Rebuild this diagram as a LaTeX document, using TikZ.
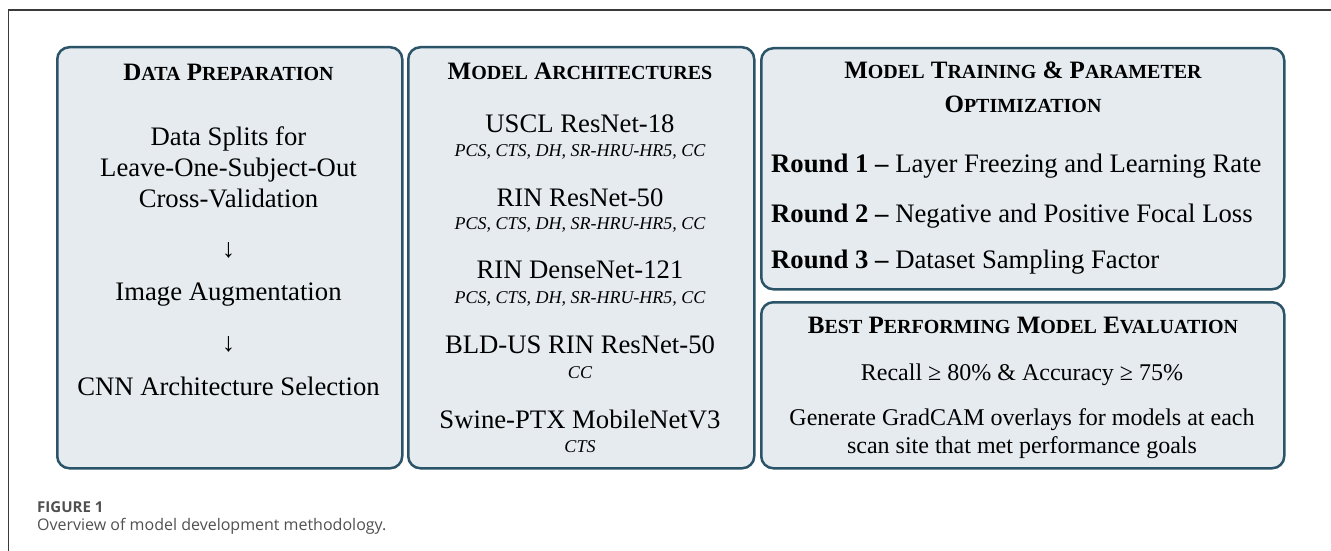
\documentclass[tikz,border=0pt]{standalone}
\usepackage{fontspec}
\setmainfont{Liberation Serif}
\newfontfamily\capfont{Open Sans}
\definecolor{boxfill}{HTML}{E5EBEF}
\definecolor{boxline}{HTML}{2B5468}
\definecolor{framecol}{HTML}{3A3A3A}
\definecolor{capgray}{HTML}{505050}
\newcommand\hdbig{\fontsize{25}{28}\selectfont}
\newcommand\hdsm{\fontsize{20}{28}\selectfont}
\newcommand\SC[2]{{\hdbig #1}{\hdsm\MakeUppercase{#2}}}
\newcommand\bodyfs{\fontsize{26.7}{31}\selectfont}
\newcommand\subfs{\fontsize{18}{21}\selectfont}
\newcommand\evalfs{\fontsize{24}{28}\selectfont}
\tikzset{
  panel/.style={draw=boxline, fill=boxfill, line width=2.5pt, rounded corners=12pt, anchor=north west, inner sep=0pt},
  head/.style={anchor=base, font=\hdbig\bfseries, inner sep=0pt},
  body/.style={anchor=base, font=\bodyfs, inner sep=0pt},
  sub/.style={anchor=base, font=\subfs\itshape, inner sep=0pt},
  roundtxt/.style={anchor=base west, font=\bodyfs, inner sep=0pt},
  evaltxt/.style={anchor=base, font=\evalfs, inner sep=0pt},
  arrowtxt/.style={anchor=center, font=\bodyfs, inner sep=0pt}
}
\begin{document}
\begin{tikzpicture}[x=1pt,y=-1pt]
\useasboundingbox (0,0) rectangle (1331,551);
% outer frame
\draw[framecol, line width=1.5pt] (8.5,551) -- (8.5,10) -- (1331,10);
% panels
\node[panel, minimum width=345pt, minimum height=421pt] (b1) at (56,46) {};
\node[panel, minimum width=346pt, minimum height=421pt] (b2) at (407,46) {};
\node[panel, minimum width=523pt, minimum height=241pt] (b3) at (760,47) {};
\node[panel, minimum width=523pt, minimum height=166pt] (b4) at (760,301) {};
% panel 1
\node[head] (h1) at (228.5,81) {\SC{D}{ata} \SC{P}{reparation}};
\node[body] (d1) at (228.5,145) {Data Splits for};
\node[body] (d2) at (228.5,176) {Leave-One-Subject-Out};
\node[body] (d3) at (228.5,207) {Cross-Validation};
\node[arrowtxt] (a1) at (228.5,250) {↓};
\node[body] (d4) at (228.5,300) {Image Augmentation};
\node[arrowtxt] (a2) at (228.5,344) {↓};
\node[body] (d5) at (228.5,395) {CNN Architecture Selection};
% panel 2
\node[head] (h2) at (580,80) {\SC{M}{odel} \SC{A}{rchitectures}};
\node[body] (m1) at (580,132) {USCL ResNet-18};
\node[sub] (s1) at (580,156) {PCS, CTS, DH, SR-HRU-HR5, CC};
\node[body] (m2) at (580,206) {RIN ResNet-50};
\node[sub] (s2) at (580,229) {PCS, CTS, DH, SR-HRU-HR5, CC};
\node[body] (m3) at (580,278) {RIN DenseNet-121};
\node[sub] (s3) at (580,303) {PCS, CTS, DH, SR-HRU-HR5, CC};
\node[body] (m4) at (580,353) {BLD-US RIN ResNet-50};
\node[sub] (s4) at (580,378) {CC};
\node[body] (m5) at (580,428) {Swine-PTX MobileNetV3};
\node[sub] (s5) at (580,452) {CTS};
% panel 3
\node[head] (h3a) at (1023,78) {\SC{M}{odel} \SC{T}{raining} \& \SC{P}{arameter}};
\node[head] (h3b) at (1023,112) {\SC{O}{ptimization}};
\node[roundtxt] (r1) at (771,172) {\textbf{Round 1 –} Layer Freezing and Learning Rate};
\node[roundtxt] (r2) at (771,222) {\textbf{Round 2 –} Negative and Positive Focal Loss};
\node[roundtxt] (r3) at (771,268) {\textbf{Round 3 –} Dataset Sampling Factor};
% panel 4
\node[head] (h4) at (1023,333) {\SC{B}{est} \SC{P}{erforming} \SC{M}{odel} \SC{E}{valuation}};
\node[evaltxt] (e1) at (1022,380) {Recall ≥ 80\% \& Accuracy ≥ 75\%};
\node[evaltxt] (e2) at (1022,425) {Generate GradCAM overlays for models at each};
\node[evaltxt] (e3) at (1022,453) {scan site that met performance goals};
% caption
\node[anchor=base west, inner sep=0pt, text=capgray, font=\capfont\fontsize{15}{17}\selectfont\bfseries] (fig) at (37,512) {FIGURE 1};
\node[anchor=base west, inner sep=0pt, text=capgray, font=\capfont\fontsize{16}{19}\selectfont] (cap) at (37,530) {Overview of model development methodology.};
\end{tikzpicture}
\end{document}
